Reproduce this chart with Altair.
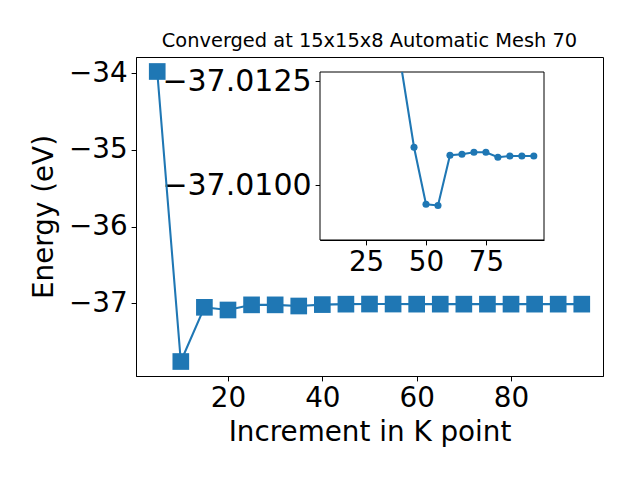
import altair as alt
import pandas as pd

# ---- data ----
k_points = [5, 10, 15, 20, 25, 30, 35, 40, 45, 50, 55, 60, 65, 70, 75, 80, 85, 90, 95]
energy = [-33.976, -37.759, -37.052, -37.087, -37.020, -37.020, -37.035, -37.0166,
          -37.01091, -37.00954, -37.00951, -37.01072, -37.01074, -37.01079,
          -37.01079, -37.01067, -37.01070, -37.01070, -37.01070]

main_x_ticks = [20, 40, 60, 80]
main_y_ticks = [-37, -36, -35, -34]
inset_x_ticks = [25, 50, 75]
inset_y_ticks = [-37.0125, -37.0100]
inset_x_domain = [5.75, 99.25]
inset_y_domain = [-37.01272, -37.00868]

title_text = "Converged at 15x15x8 Automatic Mesh 70"

df = pd.DataFrame({"k": k_points, "energy": energy})
frame_df = pd.DataFrame({"a": [0]})

BLUE = "#1f77b4"
FS = 27.8
FONT = "DejaVu Sans"

# ---- main plot ----
main_xs = alt.Scale(domain=[0.5, 99.5], nice=False, zero=False)
main_ys = alt.Scale(domain=[-37.948, -33.787], nice=False, zero=False)
main_xa = alt.Axis(values=main_x_ticks, title="Increment in K point", grid=False, format="d",
                   titlePadding=6)
main_ya = alt.Axis(values=main_y_ticks, title="Energy (eV)", grid=False, format="d",
                   titlePadding=10)

mx = alt.X("k:Q", scale=main_xs, axis=main_xa)
my = alt.Y("energy:Q", scale=main_ys, axis=main_ya)

main = alt.layer(
    alt.Chart(df).mark_line(color=BLUE, strokeWidth=2.08).encode(x=mx, y=my),
    alt.Chart(df).mark_square(color=BLUE, size=278, opacity=1).encode(x=mx, y=my),
)

# ---- inset ----
inset_xs = alt.Scale(domain=inset_x_domain, range=[184, 408], nice=False, zero=False)
inset_ys = alt.Scale(domain=inset_y_domain, range=[15, 183], nice=False, zero=False, clamp=True)
ixa = alt.Axis(orient="bottom", offset=-136, values=inset_x_ticks, title=None, grid=False, format="d")
iya = alt.Axis(orient="left", offset=-184, values=inset_y_ticks, title=None, grid=False,
               format=".4f", labelFontSize=30)

frame = alt.Chart(frame_df).mark_rect(fill="white", stroke="black", strokeWidth=1).encode(
    x=alt.XDatum(inset_x_domain[0], type="quantitative", scale=inset_xs, axis=ixa),
    x2=alt.X2Datum(inset_x_domain[1]),
    y=alt.YDatum(inset_y_domain[0], type="quantitative", scale=inset_ys, axis=iya),
    y2=alt.Y2Datum(inset_y_domain[1]),
)
ix = alt.X("k:Q", scale=inset_xs, axis=ixa)
iy = alt.Y("energy:Q", scale=inset_ys, axis=iya)
inset_line = alt.Chart(df).transform_filter("datum.k >= 40").mark_line(
    color=BLUE, strokeWidth=2.08).encode(x=ix, y=iy)
inset_pts = alt.Chart(df).transform_filter("datum.k >= 45").mark_circle(
    color=BLUE, size=50, opacity=1).encode(x=ix, y=iy)

inset = alt.layer(frame, inset_line, inset_pts)

chart = alt.layer(main, inset).resolve_scale(
    x="independent", y="independent"
).properties(
    width=467,
    height=319,
    title=alt.TitleParams(title_text, fontSize=19.4, fontWeight="normal", font=FONT,
                          anchor="middle", offset=6, color="black"),
    autosize=alt.AutoSizeParams(type="none"),
    padding={"left": 128, "top": 49, "right": 29, "bottom": 96},
).configure_axis(
    labelFontSize=FS, titleFontSize=FS, titleFontWeight="normal",
    labelFont=FONT, titleFont=FONT, labelColor="black", titleColor="black",
    tickColor="black", domainColor="black", tickSize=4.9, tickWidth=1, domainWidth=1,
    labelPadding=4, labelOverlap=False, labelFlush=False, labelBound=False,
).configure_view(stroke="black", strokeWidth=1)

chart.save("out.html", embed_options={"renderer": "svg", "actions": False})
